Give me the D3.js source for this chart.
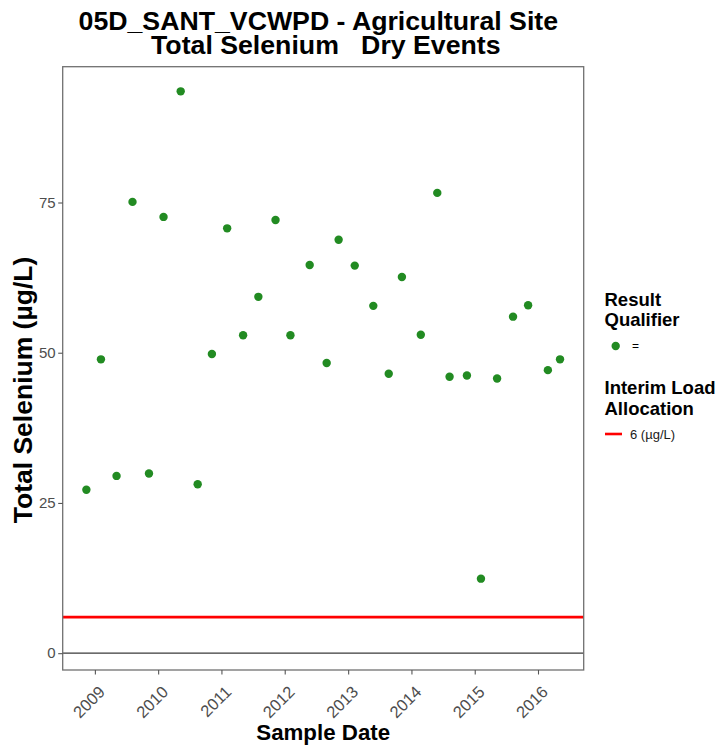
<!DOCTYPE html>
<html>
<head>
<meta charset="utf-8">
<script src="https://cdn.jsdelivr.net/npm/d3@7"></script>
<style>
  html, body { margin: 0; padding: 0; background: #fff; }
  text { font-family: "Liberation Sans", Arial, Helvetica, sans-serif; }
</style>
</head>
<body>
<svg id="chart" width="722" height="746"></svg>
<script>
// ---- data ----
const sampleDates = [
  "2008-11-13","2009-02-05","2009-05-06","2009-08-06","2009-11-09",
  "2010-02-01","2010-05-11","2010-08-17","2010-11-07","2011-02-03",
  "2011-05-06","2011-08-02","2011-11-09","2012-02-03","2012-05-24",
  "2012-08-30","2012-11-07","2013-02-08","2013-05-26","2013-08-23",
  "2013-11-07","2014-02-24","2014-05-30","2014-08-09","2014-11-17",
  "2015-02-06","2015-05-10","2015-08-10","2015-11-05","2016-02-27",
  "2016-05-07"
];
const seleniumValues = [
  27.2, 48.9, 29.5, 75.1, 29.9,
  72.6, 93.5, 28.1, 49.8, 70.7,
  52.9, 59.3, 72.1, 52.9, 64.6,
  48.3, 68.8, 64.5, 57.8, 46.5,
  62.6, 53.0, 76.6, 46.0, 46.2,
  12.4, 45.7, 56.0, 57.9, 47.1,
  48.9
];
const qualifiers = ["="];
const allocationValue = 6;
const allocationLabel = "6 (µg/L)";
const yTicks = [0, 25, 50, 75];
const xTickYears = [2009, 2010, 2011, 2012, 2013, 2014, 2015, 2016];
const yDomain = [-2.8, 97.6];

const parse = d3.timeParse("%Y-%m-%d");
const points = sampleDates.map((d, i) => ({date: parse(d), value: seleniumValues[i], q: qualifiers[0]}));

// ---- layout ----
const svg = d3.select("#chart");
const P = {left: 62.7, right: 583.7, top: 66.7, bottom: 670};

const ext = d3.extent(points, d => d.date);
const span = ext[1] - ext[0];
const x = d3.scaleTime()
  .domain([new Date(+ext[0] - span * 0.05), new Date(+ext[1] + span * 0.05)])
  .range([P.left, P.right]);
const y = d3.scaleLinear().domain(yDomain).range([P.bottom, P.top]);

const green = "#228B22";
const axisGrey = "#4d4d4d";

// zero line
svg.append("line")
  .attr("x1", P.left).attr("x2", P.right)
  .attr("y1", y(0)).attr("y2", y(0))
  .attr("stroke", "#3a3a3a").attr("stroke-width", 1.1);

// allocation line
svg.append("line")
  .attr("x1", P.left).attr("x2", P.right)
  .attr("y1", y(allocationValue)).attr("y2", y(allocationValue))
  .attr("stroke", "#ff0000").attr("stroke-width", 2.6);

// points
svg.append("g").selectAll("circle").data(points).enter().append("circle")
  .attr("cx", d => x(d.date))
  .attr("cy", d => y(d.value))
  .attr("r", 4.2)
  .attr("fill", green);

// panel border
svg.append("rect")
  .attr("x", P.left).attr("y", P.top)
  .attr("width", P.right - P.left).attr("height", P.bottom - P.top)
  .attr("fill", "none").attr("stroke", "#707070").attr("stroke-width", 1.3);

// y axis
const yAxis = d3.axisLeft(y).tickValues(yTicks).tickSize(4.5).tickPadding(2.5);
const gy = svg.append("g").attr("transform", `translate(${P.left},0)`).call(yAxis);
gy.select(".domain").remove();
gy.selectAll(".tick line").attr("stroke", "#555").attr("stroke-width", 1.1);
gy.selectAll(".tick text")
  .attr("fill", axisGrey)
  .style("font-size", "15px")
  .style("font-family", "'Liberation Sans', Arial, sans-serif");

// x axis
const xAxis = d3.axisBottom(x)
  .tickValues(xTickYears.map(yr => new Date(yr, 0, 1)))
  .tickFormat(d3.timeFormat("%Y"))
  .tickSize(4.5);
const gx = svg.append("g").attr("transform", `translate(0,${P.bottom})`).call(xAxis);
gx.select(".domain").remove();
gx.selectAll(".tick line").attr("stroke", "#555").attr("stroke-width", 1.1);
gx.selectAll(".tick text")
  .attr("fill", axisGrey)
  .style("font-size", "16.5px")
  .style("font-family", "'Liberation Sans', Arial, sans-serif")
  .attr("text-anchor", "end")
  .attr("y", 0).attr("dy", 0)
  .attr("transform", "translate(10.5,23) rotate(-45)");

// titles
svg.append("text")
  .attr("x", 318.3).attr("y", 30)
  .attr("text-anchor", "middle")
  .style("font-size", "26.7px").style("font-weight", "bold")
  .text("05D_SANT_VCWPD - Agricultural Site");
svg.append("text")
  .attr("x", 325.8).attr("y", 54)
  .attr("text-anchor", "middle")
  .attr("xml:space", "preserve")
  .style("white-space", "pre")
  .style("font-size", "26.7px").style("font-weight", "bold")
  .text("Total Selenium   Dry Events");

// axis titles
svg.append("text")
  .attr("x", (P.left + P.right) / 2).attr("y", 740)
  .attr("text-anchor", "middle")
  .style("font-size", "22.3px").style("font-weight", "bold")
  .text("Sample Date");
svg.append("text")
  .attr("transform", `translate(32,390) rotate(-90)`)
  .attr("text-anchor", "middle")
  .style("font-size", "26.5px").style("font-weight", "bold")
  .text("Total Selenium (µg/L)");

// legend 1
const lg = svg.append("g");
lg.append("text").attr("x", 604.5).attr("y", 305.7)
  .style("font-size", "18.5px").style("font-weight", "bold").text("Result");
lg.append("text").attr("x", 604.5).attr("y", 325.7)
  .style("font-size", "18.5px").style("font-weight", "bold").text("Qualifier");
lg.append("circle").attr("cx", 615.7).attr("cy", 346).attr("r", 4.2).attr("fill", green);
lg.append("text").attr("x", 632).attr("y", 350)
  .style("font-size", "12px").text(qualifiers[0]);

// legend 2
lg.append("text").attr("x", 604.5).attr("y", 394)
  .style("font-size", "18.5px").style("font-weight", "bold").text("Interim Load");
lg.append("text").attr("x", 604.5).attr("y", 415)
  .style("font-size", "18.5px").style("font-weight", "bold").text("Allocation");
lg.append("line").attr("x1", 605).attr("x2", 622).attr("y1", 434).attr("y2", 434)
  .attr("stroke", "#ff0000").attr("stroke-width", 2.6);
lg.append("text").attr("x", 630).attr("y", 438.5)
  .style("font-size", "13px").attr("fill", "#1a1a1a").text(allocationLabel);
</script>
</body>
</html>
